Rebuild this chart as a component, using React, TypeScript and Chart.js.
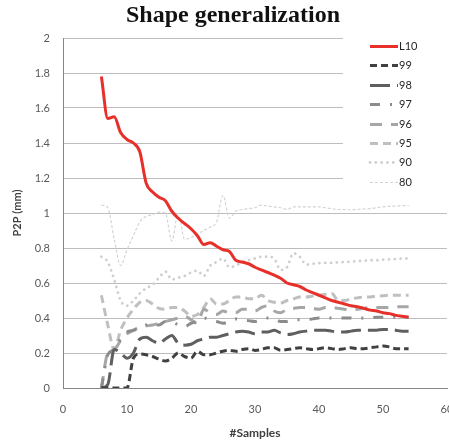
import React, { useEffect, useRef } from "react";
import { Chart, registerables } from "chart.js";

Chart.register(...registerables);

// ---------- data ----------
const SAMPLES = [6, 7, 8, 9, 10, 11, 12, 13, 14, 15, 16, 17, 18, 19, 20, 21, 22, 23, 24, 25, 26, 27, 28, 29, 30, 31, 32, 33, 34, 35, 36, 37, 38, 39, 40, 41, 42, 43, 44, 45, 46, 47, 48, 49, 50, 51, 52, 53, 54];

const L10 = [1.78, 1.54, 1.55, 1.46, 1.42, 1.40, 1.35, 1.17, 1.12, 1.09, 1.07, 1.01, 0.97, 0.94, 0.91, 0.87, 0.82, 0.83, 0.81, 0.79, 0.78, 0.73, 0.72, 0.71, 0.69, 0.675, 0.66, 0.645, 0.627, 0.60, 0.59, 0.58, 0.56, 0.545, 0.53, 0.515, 0.50, 0.49, 0.48, 0.47, 0.465, 0.455, 0.445, 0.44, 0.43, 0.425, 0.415, 0.41, 0.405];
const S99 = [0, 0, 0, 0, 0, 0.17, 0.195, 0.19, 0.18, 0.165, 0.155, 0.17, 0.20, 0.18, 0.17, 0.21, 0.19, 0.19, 0.20, 0.21, 0.215, 0.21, 0.22, 0.225, 0.215, 0.22, 0.23, 0.23, 0.215, 0.22, 0.225, 0.23, 0.225, 0.22, 0.225, 0.23, 0.225, 0.22, 0.225, 0.23, 0.225, 0.225, 0.23, 0.235, 0.24, 0.235, 0.225, 0.225, 0.225];
const S98 = [0, 0.02, 0.22, 0.20, 0.17, 0.20, 0.28, 0.29, 0.27, 0.255, 0.28, 0.30, 0.255, 0.245, 0.25, 0.27, 0.28, 0.29, 0.29, 0.30, 0.31, 0.32, 0.325, 0.32, 0.31, 0.32, 0.32, 0.33, 0.315, 0.305, 0.31, 0.32, 0.325, 0.33, 0.33, 0.33, 0.325, 0.32, 0.32, 0.325, 0.33, 0.33, 0.33, 0.33, 0.335, 0.335, 0.33, 0.325, 0.325];
const S97 = [0, 0.19, 0.22, 0.28, 0.32, 0.33, 0.34, 0.36, 0.37, 0.36, 0.38, 0.38, 0.36, 0.35, 0.37, 0.38, 0.40, 0.39, 0.38, 0.37, 0.38, 0.395, 0.39, 0.385, 0.38, 0.39, 0.40, 0.395, 0.38, 0.38, 0.39, 0.39, 0.39, 0.395, 0.40, 0.40, 0.40, 0.40, 0.40, 0.40, 0.395, 0.40, 0.40, 0.405, 0.405, 0.405, 0.405, 0.405, 0.405];
const S96 = [0, 0.20, 0.22, 0.27, 0.31, 0.33, 0.35, 0.355, 0.36, 0.37, 0.38, 0.39, 0.40, 0.41, 0.39, 0.37, 0.45, 0.43, 0.42, 0.44, 0.43, 0.43, 0.45, 0.45, 0.44, 0.46, 0.47, 0.44, 0.43, 0.45, 0.455, 0.46, 0.46, 0.455, 0.45, 0.46, 0.46, 0.455, 0.45, 0.445, 0.45, 0.455, 0.46, 0.46, 0.46, 0.46, 0.465, 0.465, 0.465];
const S95 = [0.53, 0.36, 0.22, 0.33, 0.40, 0.45, 0.49, 0.50, 0.48, 0.455, 0.45, 0.46, 0.46, 0.44, 0.41, 0.42, 0.46, 0.51, 0.48, 0.48, 0.50, 0.52, 0.52, 0.51, 0.51, 0.53, 0.50, 0.49, 0.485, 0.50, 0.51, 0.52, 0.52, 0.525, 0.53, 0.535, 0.54, 0.50, 0.50, 0.51, 0.515, 0.52, 0.52, 0.525, 0.527, 0.53, 0.53, 0.53, 0.53];
const S90 = [0.75, 0.72, 0.62, 0.50, 0.47, 0.50, 0.54, 0.57, 0.59, 0.63, 0.665, 0.62, 0.63, 0.64, 0.66, 0.67, 0.64, 0.70, 0.72, 0.74, 0.69, 0.70, 0.72, 0.73, 0.74, 0.75, 0.75, 0.74, 0.675, 0.69, 0.77, 0.75, 0.705, 0.71, 0.713, 0.715, 0.715, 0.718, 0.72, 0.722, 0.725, 0.727, 0.73, 0.73, 0.733, 0.735, 0.737, 0.74, 0.74];
const S80 = [1.045, 1.03, 0.85, 0.70, 0.79, 0.87, 0.95, 0.98, 0.99, 1.005, 1.0, 0.84, 1.0, 0.85, 0.86, 0.88, 0.90, 0.92, 0.95, 1.10, 0.97, 1.01, 1.02, 1.025, 1.03, 1.045, 1.04, 1.035, 1.03, 1.02, 1.035, 1.035, 1.035, 1.035, 1.035, 1.03, 1.025, 1.02, 1.02, 1.017, 1.02, 1.023, 1.025, 1.03, 1.035, 1.038, 1.04, 1.042, 1.042];

const SERIES_LABELS = ["L10", "99", "98", "97", "96", "95", "90", "80"];
const SERIES_VALUES = [L10, S99, S98, S97, S96, S95, S90, S80];

const TITLE = "Shape generalization";
const X_TITLE = "#Samples";
const Y_TITLE = "P2P (mm)";

// ---------- styles ----------
const STYLES = [
  { color: "#e8302a", width: 3, dash: [] as number[], cap: "butt" },
  { color: "#404040", width: 3, dash: [7, 4], cap: "butt" },
  { color: "#5f5f5f", width: 3, dash: [20, 7], cap: "butt" },
  { color: "#8c8c8c", width: 3, dash: [10, 10, 2, 10], cap: "butt" },
  { color: "#a6a6a6", width: 3, dash: [12, 9], cap: "butt" },
  { color: "#bfbfbf", width: 3, dash: [8, 5], cap: "butt" },
  { color: "#cfcfcf", width: 2.8, dash: [0.01, 5.8], cap: "round" },
  { color: "#d4d4d4", width: 1.2, dash: [3, 2], cap: "butt" },
];

const FONT_SANS = "Lato";

const titlePlugin = {
  id: "refTitle",
  afterDraw(chart: any) {
    const ctx = chart.ctx;
    ctx.save();
    ctx.font = "bold 24px 'Liberation Serif'";
    ctx.fillStyle = "#111111";
    ctx.textAlign = "center";
    ctx.textBaseline = "alphabetic";
    ctx.fillText(TITLE, 233, 22);
    ctx.restore();
  },
};

const legendPlugin = {
  id: "refLegend",
  afterDraw(chart: any) {
    const ctx = chart.ctx;
    ctx.save();
    ctx.fillStyle = "#ffffff";
    ctx.fillRect(343, 34, 106, 160);
    const x0 = 370;
    const x1 = 398;
    const yStart = 46;
    const step = 19.4;
    SERIES_LABELS.forEach((lab, i) => {
      const st = STYLES[i];
      const y = Math.round(yStart + i * step) + 0.5;
      ctx.beginPath();
      ctx.strokeStyle = st.color;
      ctx.lineWidth = st.width;
      ctx.lineCap = st.cap;
      ctx.setLineDash(st.dash);
      ctx.moveTo(x0, y);
      ctx.lineTo(x1, y);
      ctx.stroke();
      ctx.setLineDash([]);
      ctx.fillStyle = "#262626";
      ctx.font = `11px ${FONT_SANS}`;
      ctx.textAlign = "left";
      ctx.textBaseline = "middle";
      ctx.fillText(lab, x1 + 1, y);
    });
    ctx.restore();
  },
};

export default function App() {
  const canvasRef = useRef<HTMLCanvasElement | null>(null);

  useEffect(() => {
    document.body.style.margin = "0";
    const canvas = canvasRef.current;
    if (!canvas) return;

    const datasets = SERIES_LABELS.map((lab, i) => ({
      label: lab,
      data: SAMPLES.map((x, j) => ({ x, y: SERIES_VALUES[i][j] })),
      borderColor: STYLES[i].color,
      backgroundColor: STYLES[i].color,
      borderWidth: STYLES[i].width,
      borderDash: STYLES[i].dash,
      borderCapStyle: STYLES[i].cap,
      borderJoinStyle: "round",
      pointRadius: 0,
      fill: false,
      cubicInterpolationMode: "monotone",
    }));

    const chart = new Chart(canvas, {
      type: "line",
      data: { datasets } as any,
      options: {
        responsive: false,
        animation: false,
        devicePixelRatio: 1,
        layout: { padding: { top: 38, right: 2, left: 0, bottom: 0 } },
        plugins: {
          legend: { display: false },
          title: { display: false },
          tooltip: { enabled: false },
        },
        scales: {
          x: {
            type: "linear",
            min: 0,
            max: 60,
            ticks: {
              stepSize: 10,
              padding: 15,
              color: "#595959",
              font: { family: FONT_SANS, size: 11 },
              maxRotation: 0,
            },
            grid: { display: false, drawTicks: false },
            border: { display: true, color: "#868686", width: 1 },
            title: {
              display: true,
              text: X_TITLE,
              color: "#404040",
              font: { family: FONT_SANS, size: 12, weight: "bold" },
              padding: { top: 0, bottom: 5 },
            },
            afterFit: (s: any) => {
              s.height = 57;
              s.paddingRight = 0;
              s.paddingLeft = 0;
            },
          },
          y: {
            min: 0,
            max: 2,
            ticks: {
              stepSize: 0.2,
              padding: 13,
              color: "#595959",
              font: { family: FONT_SANS, size: 11 },
              callback: (v: any) => String(Number(Number(v).toFixed(1))),
            },
            grid: {
              drawTicks: false,
              color: (c: any) => (c.tick && c.tick.value === 0 ? "#868686" : "#bdbdbd"),
            },
            border: { display: true, color: "#868686", width: 1 },
            title: {
              display: true,
              text: Y_TITLE,
              color: "#404040",
              font: { family: FONT_SANS, size: 11, weight: "bold" },
              padding: { top: 11, bottom: 0 },
            },
            afterFit: (s: any) => {
              s.width = 63;
            },
          },
        },
      } as any,
      plugins: [titlePlugin, legendPlugin],
    });

    return () => chart.destroy();
  }, []);

  return (
    <div style={{ position: "absolute", left: 0, top: 0, width: 449, height: 445 }}>
      <canvas ref={canvasRef} width={449} height={445} style={{ display: "block" }} />
    </div>
  );
}
